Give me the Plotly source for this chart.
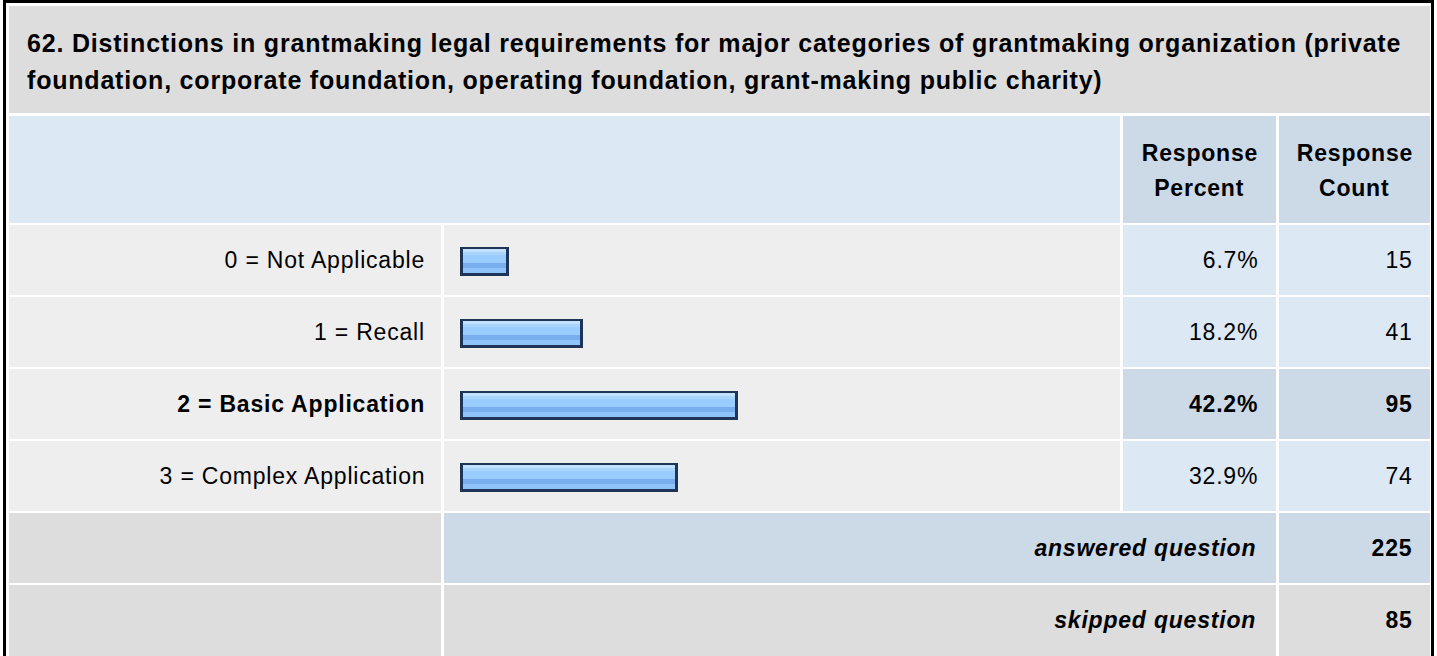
import plotly.graph_objects as go

# survey question 62 - response table
title_lines = [
    "62. Distinctions in grantmaking legal requirements for major categories of grantmaking organization (private",
    "foundation, corporate foundation, operating foundation, grant-making public charity)",
]
header_pct = ["Response", "Percent"]
header_cnt = ["Response", "Count"]
labels = ["0 = Not Applicable", "1 = Recall", "2 = Basic Application", "3 = Complex Application"]
pct = [6.7, 18.2, 42.2, 32.9]
counts = [15, 41, 95, 74]
answered = 225
skipped = 85
footer_labels = ["answered question", "skipped question"]

W, H = 1437, 656
FONT = "Liberation Sans, Arial, Helvetica, sans-serif"
FS = 23
TITLE_FS = 25

# colours
GRAY = "#dddddd"
ROWBG = "#eeeeee"
LBLUE = "#dde8f5"
DBLUE = "#ccd9e7"
NAVY = "#1e3557"

# table geometry (pixels)
C0, C1, C2, C3 = (9, 441), (444, 1120), (1123, 1276), (1279, 1430)
ROW_TOP = 225
PITCH = 72
ROW_H = 70

top_row = counts.index(max(counts))

fig = go.Figure()
shapes = []


def cell(x0, x1, y0, y1, color):
    shapes.append(dict(type="rect", xref="x", yref="y", x0=x0, x1=x1, y0=y0, y1=y1,
                       fillcolor=color, line=dict(width=0), layer="below"))


def txt(x, y, s, anchor="right", bold=False, italic=False, size=FS):
    fig.add_annotation(x=x, y=y, xref="x", yref="y", text=s, showarrow=False,
                       xanchor=anchor, yanchor="middle", align=anchor,
                       font=dict(family=FONT, size=size, color="#000000",
                                 weight="bold" if bold else "normal",
                                 style="italic" if italic else "normal"))


# title
cell(C0[0], C3[1], 6, 113, GRAY)
txt(25, 43, title_lines[0], "left", bold=True, size=TITLE_FS)
txt(25, 80, title_lines[1], "left", bold=True, size=TITLE_FS)

# header
cell(C0[0], C1[1], 116, 223, LBLUE)
cell(C2[0], C2[1], 116, 223, DBLUE)
cell(C3[0], C3[1], 116, 223, DBLUE)
for i, (a, b) in enumerate(zip(header_pct, header_cnt)):
    yy = 153 + i * 35
    txt((C2[0] + C2[1]) / 2, yy, a, "center", bold=True)
    txt((C3[0] + C3[1]) / 2, yy, b, "center", bold=True)

# data rows
for i, lab in enumerate(labels):
    y0 = ROW_TOP + i * PITCH
    y1 = y0 + ROW_H
    ym = (y0 + y1) / 2
    hi = i == top_row
    cell(C0[0], C0[1], y0, y1, ROWBG)
    cell(C1[0], C1[1], y0, y1, ROWBG)
    cell(C2[0], C2[1], y0, y1, DBLUE if hi else LBLUE)
    cell(C3[0], C3[1], y0, y1, DBLUE if hi else LBLUE)
    txt(427, ym, lab, bold=hi)
    txt(1260, ym, f"{pct[i]:.1f}%", bold=hi)
    txt(1415, ym, str(counts[i]), bold=hi)

# footer rows
n = len(labels)
for j, (lab, val) in enumerate(zip(footer_labels, [answered, skipped])):
    y0 = ROW_TOP + (n + j) * PITCH
    y1 = y0 + ROW_H if j == 0 else H + 10
    ym = y0 + ROW_H / 2
    col = DBLUE if j == 0 else GRAY
    cell(C0[0], C0[1], y0, y1, GRAY)
    cell(C1[0], C2[1], y0, y1, col)
    cell(C3[0], C3[1], y0, y1, col)
    txt(1258, ym, lab, bold=True, italic=True)
    txt(1415, ym, str(val), bold=True)

# outer frame
shapes.append(dict(type="rect", xref="x", yref="y", x0=4.5, x1=1432.5, y0=1.5, y1=H + 20,
                   line=dict(color="#000000", width=3), fillcolor="rgba(0,0,0,0)", layer="above"))

# bars: navy outline bar, then horizontal stripes inside it
BAR_PX = 29
UNIT = PITCH  # pixels per category on yaxis2
BAR_X0 = 460
PX_PER_PCT = 6.46
LEAD = 5.4  # bars carry a fixed few pixels of frame beyond their value
BORDER = 2.7
stripes = [
    (2.7, 5.3, "#c2e1ff"),
    (5.3, 8.0, "#a9d4ff"),
    (8.0, 16.0, "#99ccff"),
    (16.0, 21.0, "#78adee"),
    (21.0, 26.3, "#8fc3fa"),
]
e = LEAD / PX_PER_PCT
b = BORDER / PX_PER_PCT
fig.add_trace(go.Bar(x=[p + e for p in pct], base=-e, y=labels, orientation="h",
                     xaxis="x2", yaxis="y2",
                     marker=dict(color=NAVY, line=dict(width=0)),
                     width=BAR_PX / UNIT, offset=-BAR_PX / 2 / UNIT,
                     hoverinfo="skip", showlegend=False))
for t0, t1, colr in stripes:
    fig.add_trace(go.Bar(x=[p + e - 2 * b for p in pct], base=-e + b, y=labels, orientation="h",
                         xaxis="x2", yaxis="y2",
                         marker=dict(color=colr, line=dict(width=0)),
                         width=(t1 - t0) / UNIT, offset=(t0 - BAR_PX / 2) / UNIT,
                         hoverinfo="skip", showlegend=False))

# a hidden trace so the pixel axes exist
fig.add_trace(go.Scatter(x=[0], y=[0], mode="markers", marker=dict(opacity=0),
                         hoverinfo="skip", showlegend=False))

x_end = BAR_X0 + LEAD + 100 * PX_PER_PCT
rows_top = ROW_TOP
rows_bot = ROW_TOP + n * PITCH
fig.update_layout(
    width=W, height=H,
    margin=dict(l=0, r=0, t=0, b=0),
    paper_bgcolor="#ffffff", plot_bgcolor="rgba(0,0,0,0)",
    barmode="overlay", bargap=0,
    shapes=shapes,
    xaxis=dict(range=[0, W], visible=False, domain=[0, 1], fixedrange=True),
    yaxis=dict(range=[H, 0], visible=False, domain=[0, 1], fixedrange=True),
    xaxis2=dict(range=[-e, 100], domain=[BAR_X0 / W, x_end / W],
                anchor="y2", visible=False, fixedrange=True),
    yaxis2=dict(type="category", categoryorder="array", categoryarray=labels,
                range=[n - 0.5, -0.5], domain=[1 - rows_bot / H, 1 - rows_top / H],
                anchor="x2", visible=False, fixedrange=True),
)

# page margin off, and the loose letter spacing of the original table text
post = """
document.body.style.margin = '0';
var gd = document.getElementById('{plot_id}');
function spacing() {
  gd.querySelectorAll('.annotation-text').forEach(function (t) {
    t.style.letterSpacing = '0.8px';
  });
}
spacing();
gd.on('plotly_afterplot', spacing);
"""
fig.write_html("out.html", post_script=post, config={"displayModeBar": False})
